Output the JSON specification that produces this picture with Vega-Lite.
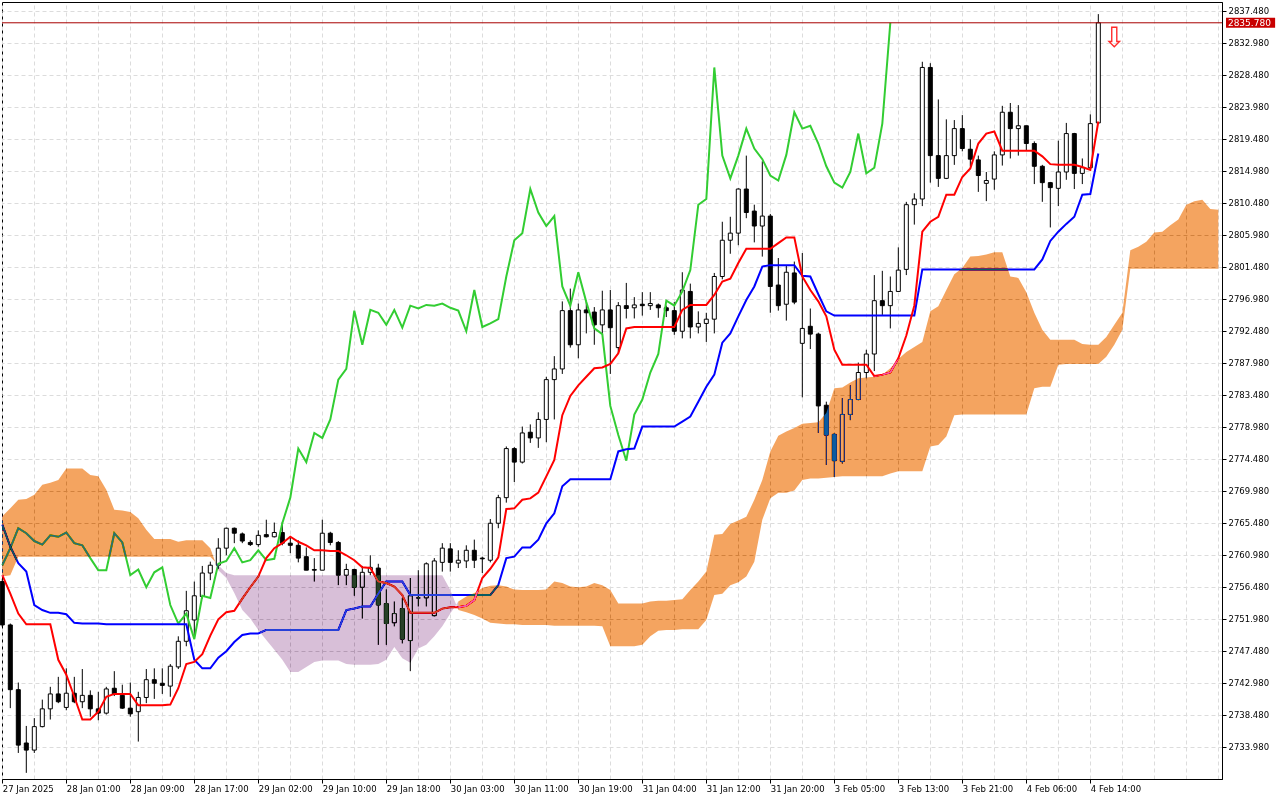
{
"$schema": "https://vega.github.io/schema/vega-lite/v6.json",
"width": 1220, "height": 777,
"autosize": {"type": "none"},
"padding": {"left": 2, "top": 2, "right": 58, "bottom": 21},
"background": "white",
"resolve": {"axis": {"x": "independent", "y": "independent"}},
"config": {
  "view": {"stroke": "black", "strokeWidth": 1},
  "scale": {"continuousPadding": 0},
  "axis": {"labelFont": "DejaVu Sans", "labelFontSize": 8.5, "labelColor": "black", "gridColor": "#dcdcdc", "gridDash": [4, 3], "gridWidth": 1, "tickColor": "black", "domainColor": "black"}
},
"datasets": {
"candles": [
{"i":0,"o":2757.2,"h":2757.6,"l":2750.8,"c":2751.1},{"i":1,"o":2751.1,"h":2751.3,"l":2739.4,"c":2742.0},{"i":2,"o":2742.0,"h":2743.0,"l":2733.1,"c":2734.2},{"i":3,"o":2734.5,"h":2736.9,"l":2730.3,"c":2733.5},{"i":4,"o":2733.5,"h":2738.0,"l":2733.1,"c":2736.8},{"i":5,"o":2736.8,"h":2740.6,"l":2736.7,"c":2739.3},{"i":6,"o":2739.3,"h":2742.4,"l":2737.8,"c":2741.4},{"i":7,"o":2741.4,"h":2743.8,"l":2740.1,"c":2740.3},{"i":8,"o":2739.5,"h":2745.0,"l":2739.1,"c":2741.5},{"i":9,"o":2741.5,"h":2743.8,"l":2740.1,"c":2740.3},
{"i":10,"o":2740.3,"h":2744.9,"l":2739.4,"c":2741.2},{"i":11,"o":2741.2,"h":2741.9,"l":2738.2,"c":2739.3},{"i":12,"o":2739.3,"h":2741.7,"l":2737.7,"c":2738.7},{"i":13,"o":2738.7,"h":2742.4,"l":2738.5,"c":2742.1},{"i":14,"o":2742.2,"h":2744.6,"l":2741.1,"c":2741.4},{"i":15,"o":2741.2,"h":2742.7,"l":2739.3,"c":2739.4},{"i":16,"o":2739.4,"h":2743.0,"l":2738.2,"c":2738.6},{"i":17,"o":2738.9,"h":2741.7,"l":2734.7,"c":2740.9},{"i":18,"o":2740.9,"h":2744.9,"l":2740.1,"c":2743.4},{"i":19,"o":2743.4,"h":2745.0,"l":2740.7,"c":2742.9},
{"i":20,"o":2742.9,"h":2745.0,"l":2741.4,"c":2742.6},{"i":21,"o":2742.5,"h":2745.6,"l":2741.0,"c":2745.3},{"i":22,"o":2745.2,"h":2749.5,"l":2744.9,"c":2748.8},{"i":23,"o":2748.8,"h":2755.9,"l":2748.1,"c":2753.1},{"i":24,"o":2751.8,"h":2757.2,"l":2749.2,"c":2755.2},{"i":25,"o":2755.1,"h":2759.4,"l":2754.8,"c":2758.4},{"i":26,"o":2758.4,"h":2760.0,"l":2757.4,"c":2759.5},{"i":27,"o":2759.5,"h":2763.3,"l":2759.0,"c":2761.9},{"i":28,"o":2761.9,"h":2764.8,"l":2760.9,"c":2764.7},{"i":29,"o":2764.7,"h":2764.8,"l":2762.6,"c":2764.0},
{"i":30,"o":2763.9,"h":2764.1,"l":2762.6,"c":2762.9},{"i":31,"o":2762.7,"h":2763.0,"l":2762.2,"c":2762.4},{"i":32,"o":2762.4,"h":2764.4,"l":2762.1,"c":2763.7},{"i":33,"o":2763.8,"h":2765.9,"l":2763.4,"c":2763.5},{"i":34,"o":2763.5,"h":2765.5,"l":2763.4,"c":2764.1},{"i":35,"o":2764.1,"h":2765.6,"l":2762.3,"c":2762.6},{"i":36,"o":2762.6,"h":2763.5,"l":2761.2,"c":2762.3},{"i":37,"o":2762.3,"h":2763.0,"l":2759.9,"c":2760.5},{"i":38,"o":2760.7,"h":2762.0,"l":2758.8,"c":2758.8},{"i":39,"o":2758.9,"h":2760.5,"l":2757.2,"c":2758.8},
{"i":40,"o":2758.8,"h":2765.9,"l":2758.8,"c":2764.0},{"i":41,"o":2764.0,"h":2764.2,"l":2762.3,"c":2762.7},{"i":42,"o":2762.7,"h":2762.9,"l":2756.7,"c":2758.1},{"i":43,"o":2758.1,"h":2759.7,"l":2756.7,"c":2758.9},{"i":44,"o":2758.9,"h":2759.0,"l":2755.2,"c":2756.4},{"i":45,"o":2756.4,"h":2759.4,"l":2752.0,"c":2758.5},{"i":46,"o":2758.5,"h":2760.9,"l":2758.1,"c":2759.2},{"i":47,"o":2759.1,"h":2759.7,"l":2748.3,"c":2753.9},{"i":48,"o":2754.1,"h":2756.1,"l":2748.3,"c":2751.3},{"i":49,"o":2751.4,"h":2754.4,"l":2750.9,"c":2752.7},
{"i":50,"o":2753.4,"h":2754.9,"l":2748.5,"c":2749.1},{"i":51,"o":2748.9,"h":2757.7,"l":2744.6,"c":2755.2},{"i":52,"o":2754.9,"h":2758.8,"l":2753.7,"c":2754.9},{"i":53,"o":2754.9,"h":2759.9,"l":2753.7,"c":2759.7},{"i":54,"o":2752.4,"h":2760.5,"l":2752.3,"c":2760.1},{"i":55,"o":2759.9,"h":2762.6,"l":2758.6,"c":2761.9},{"i":56,"o":2761.8,"h":2762.6,"l":2758.6,"c":2759.9},{"i":57,"o":2759.8,"h":2761.6,"l":2759.1,"c":2760.2},{"i":58,"o":2760.1,"h":2762.3,"l":2759.1,"c":2761.6},{"i":59,"o":2761.6,"h":2763.1,"l":2759.1,"c":2760.2},
{"i":60,"o":2760.5,"h":2760.7,"l":2758.4,"c":2760.4},{"i":61,"o":2760.2,"h":2766.0,"l":2759.9,"c":2765.4},{"i":62,"o":2765.4,"h":2769.4,"l":2764.7,"c":2769.0},{"i":63,"o":2769.0,"h":2776.2,"l":2768.3,"c":2775.9},{"i":64,"o":2775.9,"h":2776.1,"l":2771.2,"c":2774.0},{"i":65,"o":2774.0,"h":2779.0,"l":2773.8,"c":2778.1},{"i":66,"o":2778.2,"h":2779.3,"l":2776.7,"c":2777.4},{"i":67,"o":2777.4,"h":2781.0,"l":2776.0,"c":2780.0},{"i":68,"o":2780.0,"h":2786.0,"l":2776.8,"c":2785.6},{"i":69,"o":2785.6,"h":2788.9,"l":2780.0,"c":2787.1},
{"i":70,"o":2787.1,"h":2796.6,"l":2786.4,"c":2795.3},{"i":71,"o":2795.3,"h":2798.4,"l":2790.1,"c":2790.5},{"i":72,"o":2790.5,"h":2796.3,"l":2788.6,"c":2795.4},{"i":73,"o":2795.4,"h":2796.5,"l":2792.1,"c":2795.0},{"i":74,"o":2795.1,"h":2795.8,"l":2790.5,"c":2793.3},{"i":75,"o":2793.3,"h":2798.1,"l":2792.1,"c":2795.4},{"i":76,"o":2795.4,"h":2798.2,"l":2786.4,"c":2792.9},{"i":77,"o":2790.1,"h":2796.5,"l":2789.3,"c":2796.0},{"i":78,"o":2796.0,"h":2799.2,"l":2794.2,"c":2795.6},{"i":79,"o":2795.7,"h":2797.2,"l":2794.2,"c":2796.1},
{"i":80,"o":2796.2,"h":2797.9,"l":2794.6,"c":2796.0},{"i":81,"o":2796.0,"h":2797.9,"l":2795.4,"c":2796.3},{"i":82,"o":2796.1,"h":2796.3,"l":2794.3,"c":2795.7},{"i":83,"o":2795.7,"h":2796.0,"l":2794.4,"c":2795.3},{"i":84,"o":2795.3,"h":2796.5,"l":2791.9,"c":2792.4},{"i":85,"o":2792.4,"h":2800.7,"l":2791.4,"c":2798.2},{"i":86,"o":2798.0,"h":2799.1,"l":2791.4,"c":2793.0},{"i":87,"o":2793.0,"h":2795.2,"l":2792.1,"c":2793.5},{"i":88,"o":2793.5,"h":2795.0,"l":2790.9,"c":2794.1},{"i":89,"o":2794.1,"h":2800.6,"l":2792.1,"c":2800.1},
{"i":90,"o":2800.1,"h":2807.8,"l":2799.7,"c":2805.2},{"i":91,"o":2805.2,"h":2808.5,"l":2803.3,"c":2806.2},{"i":92,"o":2806.2,"h":2812.5,"l":2804.5,"c":2812.4},{"i":93,"o":2812.4,"h":2817.1,"l":2808.3,"c":2809.1},{"i":94,"o":2809.3,"h":2810.2,"l":2804.9,"c":2807.2},{"i":95,"o":2807.2,"h":2816.3,"l":2802.9,"c":2808.6},{"i":96,"o":2808.6,"h":2808.9,"l":2795.0,"c":2798.7},{"i":97,"o":2798.9,"h":2802.7,"l":2795.3,"c":2796.0},{"i":98,"o":2796.2,"h":2801.7,"l":2793.9,"c":2800.7},{"i":99,"o":2800.6,"h":2802.2,"l":2796.2,"c":2796.5},
{"i":100,"o":2790.7,"h":2803.4,"l":2783.1,"c":2792.8},{"i":101,"o":2793.1,"h":2795.6,"l":2789.9,"c":2792.0},{"i":102,"o":2792.0,"h":2792.2,"l":2778.1,"c":2781.9},{"i":103,"o":2782.0,"h":2782.5,"l":2773.6,"c":2777.8},{"i":104,"o":2777.9,"h":2778.1,"l":2771.9,"c":2774.2},{"i":105,"o":2774.1,"h":2783.0,"l":2773.8,"c":2780.7},{"i":106,"o":2780.7,"h":2784.8,"l":2779.9,"c":2782.8},{"i":107,"o":2782.8,"h":2788.0,"l":2782.7,"c":2786.6},{"i":108,"o":2786.6,"h":2789.8,"l":2785.8,"c":2789.2},{"i":109,"o":2789.2,"h":2800.3,"l":2786.8,"c":2796.7},
{"i":110,"o":2796.7,"h":2800.9,"l":2794.7,"c":2796.0},{"i":111,"o":2796.0,"h":2800.1,"l":2792.8,"c":2798.0},{"i":112,"o":2798.0,"h":2804.2,"l":2798.0,"c":2801.0},{"i":113,"o":2801.1,"h":2810.6,"l":2800.3,"c":2810.2},{"i":114,"o":2810.2,"h":2811.8,"l":2807.4,"c":2811.0},{"i":115,"o":2811.0,"h":2830.3,"l":2810.0,"c":2829.5},{"i":116,"o":2829.5,"h":2830.1,"l":2813.3,"c":2817.1},{"i":117,"o":2817.1,"h":2825.0,"l":2812.7,"c":2813.9},{"i":118,"o":2813.9,"h":2822.2,"l":2813.8,"c":2817.1},{"i":119,"o":2817.1,"h":2822.1,"l":2815.8,"c":2820.9},
{"i":120,"o":2820.9,"h":2822.8,"l":2817.7,"c":2818.1},{"i":121,"o":2818.0,"h":2819.4,"l":2815.6,"c":2816.6},{"i":122,"o":2816.5,"h":2817.1,"l":2812.0,"c":2814.3},{"i":123,"o":2813.2,"h":2814.8,"l":2810.7,"c":2813.6},{"i":124,"o":2813.8,"h":2817.7,"l":2812.3,"c":2817.2},{"i":125,"o":2817.2,"h":2824.1,"l":2815.7,"c":2823.2},{"i":126,"o":2823.2,"h":2824.5,"l":2816.7,"c":2820.9},{"i":127,"o":2820.9,"h":2824.2,"l":2817.1,"c":2821.3},{"i":128,"o":2821.3,"h":2821.3,"l":2817.8,"c":2818.8},{"i":129,"o":2818.8,"h":2819.1,"l":2813.1,"c":2815.6},
{"i":130,"o":2815.6,"h":2815.8,"l":2810.6,"c":2813.3},{"i":131,"o":2813.3,"h":2813.4,"l":2807.0,"c":2812.6},{"i":132,"o":2812.5,"h":2819.2,"l":2810.0,"c":2814.8},{"i":133,"o":2814.8,"h":2821.7,"l":2813.7,"c":2820.2},{"i":134,"o":2820.2,"h":2820.3,"l":2812.4,"c":2814.6},{"i":135,"o":2814.6,"h":2816.7,"l":2813.1,"c":2815.4},{"i":136,"o":2815.4,"h":2822.9,"l":2815.2,"c":2821.6},{"i":137,"o":2821.7,"h":2837.0,"l":2821.7,"c":2835.78}
],
"lines": [
{"i":0,"t":2758.1,"k":2765.2,"g":2759.5},{"i":1,"t":2755.5,"k":2762.1,"g":2761.9},{"i":2,"t":2752.7,"k":2759.8,"g":2764.7},{"i":3,"t":2751.2,"k":2758.6,"g":2764.0},{"i":4,"t":2751.2,"k":2753.9,"g":2762.9},{"i":5,"t":2751.2,"k":2753.2,"g":2762.4},{"i":6,"t":2751.2,"k":2752.8,"g":2763.7},{"i":7,"t":2746.2,"k":2752.8,"g":2763.5},{"i":8,"t":2744.1,"k":2752.6,"g":2764.1},{"i":9,"t":2741.0,"k":2751.4,"g":2762.6},
{"i":10,"t":2737.8,"k":2751.3,"g":2762.3},{"i":11,"t":2737.8,"k":2751.3,"g":2760.5},{"i":12,"t":2738.9,"k":2751.3,"g":2758.8},{"i":13,"t":2741.0,"k":2751.2,"g":2758.8},{"i":14,"t":2741.4,"k":2751.2,"g":2764.0},{"i":15,"t":2741.4,"k":2751.2,"g":2762.7},{"i":16,"t":2741.4,"k":2751.2,"g":2758.1},{"i":17,"t":2739.8,"k":2751.2,"g":2758.9},{"i":18,"t":2739.8,"k":2751.2,"g":2756.4},{"i":19,"t":2739.8,"k":2751.2,"g":2758.5},
{"i":20,"t":2739.8,"k":2751.2,"g":2759.2},{"i":21,"t":2739.9,"k":2751.2,"g":2753.9},{"i":22,"t":2742.2,"k":2751.2,"g":2751.3},{"i":23,"t":2745.6,"k":2751.2,"g":2752.7},{"i":24,"t":2745.9,"k":2746.2,"g":2749.1},{"i":25,"t":2747.0,"k":2745.0,"g":2755.2},{"i":26,"t":2749.6,"k":2745.0,"g":2754.9},{"i":27,"t":2751.9,"k":2746.5,"g":2759.7},{"i":28,"t":2752.9,"k":2747.4,"g":2760.1},{"i":29,"t":2753.1,"k":2748.7,"g":2761.9},
{"i":30,"t":2754.8,"k":2749.7,"g":2759.9},{"i":31,"t":2756.4,"k":2749.9,"g":2760.2},{"i":32,"t":2757.9,"k":2749.9,"g":2761.6},{"i":33,"t":2760.5,"k":2750.4,"g":2760.2},{"i":34,"t":2761.9,"k":2750.4,"g":2760.4},{"i":35,"t":2762.6,"k":2750.4,"g":2765.4},{"i":36,"t":2763.5,"k":2750.4,"g":2769.0},{"i":37,"t":2762.8,"k":2750.4,"g":2775.9},{"i":38,"t":2762.3,"k":2750.4,"g":2774.0},{"i":39,"t":2761.6,"k":2750.4,"g":2778.1},
{"i":40,"t":2761.6,"k":2750.4,"g":2777.4},{"i":41,"t":2761.5,"k":2750.4,"g":2780.0},{"i":42,"t":2761.5,"k":2750.4,"g":2785.6},{"i":43,"t":2760.9,"k":2753.2,"g":2787.1},{"i":44,"t":2760.2,"k":2753.4,"g":2795.3},{"i":45,"t":2759.2,"k":2753.7,"g":2790.5},{"i":46,"t":2759.1,"k":2753.7,"g":2795.4},{"i":47,"t":2757.2,"k":2755.5,"g":2795.0},{"i":48,"t":2757.0,"k":2757.2,"g":2793.3},{"i":49,"t":2756.5,"k":2757.2,"g":2795.4},
{"i":50,"t":2755.3,"k":2757.2,"g":2792.9},{"i":51,"t":2752.8,"k":2755.3,"g":2796.0},{"i":52,"t":2752.8,"k":2755.3,"g":2795.6},{"i":53,"t":2752.8,"k":2755.3,"g":2796.1},{"i":54,"t":2752.8,"k":2755.3,"g":2796.0},{"i":55,"t":2753.4,"k":2755.3,"g":2796.3},{"i":56,"t":2753.6,"k":2755.3,"g":2795.7},{"i":57,"t":2753.6,"k":2755.3,"g":2795.3},{"i":58,"t":2753.8,"k":2755.3,"g":2792.4},{"i":59,"t":2754.6,"k":2755.3,"g":2798.2},
{"i":60,"t":2757.7,"k":2755.3,"g":2793.0},{"i":61,"t":2759.0,"k":2755.3,"g":2793.5},{"i":62,"t":2760.6,"k":2756.7,"g":2794.1},{"i":63,"t":2767.4,"k":2760.5,"g":2800.1},{"i":64,"t":2767.5,"k":2760.7,"g":2805.2},{"i":65,"t":2768.7,"k":2762.0,"g":2806.2},{"i":66,"t":2768.9,"k":2762.0,"g":2812.4},{"i":67,"t":2769.7,"k":2763.1,"g":2809.1},{"i":68,"t":2772.0,"k":2765.4,"g":2807.2},{"i":69,"t":2774.3,"k":2766.8,"g":2808.6},
{"i":70,"t":2780.6,"k":2770.6,"g":2798.7},{"i":71,"t":2783.3,"k":2771.6,"g":2796.0},{"i":72,"t":2784.8,"k":2771.6,"g":2800.7},{"i":73,"t":2786.0,"k":2771.6,"g":2796.5},{"i":74,"t":2787.2,"k":2771.6,"g":2792.8},{"i":75,"t":2787.3,"k":2771.6,"g":2792.0},{"i":76,"t":2787.8,"k":2771.6,"g":2781.9},{"i":77,"t":2789.3,"k":2775.5,"g":2777.8},{"i":78,"t":2792.8,"k":2775.8,"g":2774.2},{"i":79,"t":2793.0,"k":2775.9,"g":2780.7},
{"i":80,"t":2793.0,"k":2779.0,"g":2782.8},{"i":81,"t":2793.0,"k":2779.0,"g":2786.6},{"i":82,"t":2793.0,"k":2779.0,"g":2789.2},{"i":83,"t":2793.0,"k":2779.0,"g":2796.7},{"i":84,"t":2793.0,"k":2779.0,"g":2796.0},{"i":85,"t":2795.4,"k":2779.7,"g":2798.0},{"i":86,"t":2796.1,"k":2780.4,"g":2801.0},{"i":87,"t":2796.1,"k":2782.5,"g":2810.2},{"i":88,"t":2796.1,"k":2784.6,"g":2811.0},{"i":89,"t":2797.5,"k":2786.3,"g":2829.5},
{"i":90,"t":2799.4,"k":2790.8,"g":2817.1},{"i":91,"t":2799.8,"k":2792.1,"g":2813.9},{"i":92,"t":2802.0,"k":2794.5,"g":2817.1},{"i":93,"t":2804.0,"k":2796.8,"g":2820.9},{"i":94,"t":2804.0,"k":2798.7,"g":2818.1},{"i":95,"t":2804.0,"k":2801.5,"g":2816.6},{"i":96,"t":2804.0,"k":2801.7,"g":2814.3},{"i":97,"t":2804.8,"k":2801.7,"g":2813.6},{"i":98,"t":2805.6,"k":2801.7,"g":2817.2},{"i":99,"t":2805.6,"k":2801.7,"g":2823.2},
{"i":100,"t":2800.1,"k":2800.2,"g":2820.9},{"i":101,"t":2798.2,"k":2800.1,"g":2821.3},{"i":102,"t":2796.6,"k":2797.6,"g":2818.8},{"i":103,"t":2794.5,"k":2795.2,"g":2815.6},{"i":104,"t":2789.8,"k":2794.6,"g":2813.3},{"i":105,"t":2787.7,"k":2794.6,"g":2812.6},{"i":106,"t":2787.7,"k":2794.6,"g":2814.8},{"i":107,"t":2787.7,"k":2794.6,"g":2820.2},{"i":108,"t":2787.7,"k":2794.6,"g":2814.6},{"i":109,"t":2786.1,"k":2794.6,"g":2815.4},
{"i":110,"t":2786.3,"k":2794.6,"g":2821.6},{"i":111,"t":2786.6,"k":2794.6,"g":2835.78},{"i":112,"t":2788.6,"k":2794.6},{"i":113,"t":2791.8,"k":2794.6},{"i":114,"t":2796.0,"k":2794.6},{"i":115,"t":2806.4,"k":2801.1},{"i":116,"t":2807.8,"k":2801.1},{"i":117,"t":2808.5,"k":2801.1},{"i":118,"t":2811.6,"k":2801.1},{"i":119,"t":2811.6,"k":2801.1},
{"i":120,"t":2814.1,"k":2801.1},{"i":121,"t":2815.3,"k":2801.1},{"i":122,"t":2818.8,"k":2801.1},{"i":123,"t":2820.2,"k":2801.1},{"i":124,"t":2820.5,"k":2801.1},{"i":125,"t":2817.8,"k":2801.1},{"i":126,"t":2817.8,"k":2801.1},{"i":127,"t":2817.8,"k":2801.1},{"i":128,"t":2817.8,"k":2801.1},{"i":129,"t":2817.8,"k":2801.1},
{"i":130,"t":2817.0,"k":2802.5},{"i":131,"t":2815.9,"k":2805.1},{"i":132,"t":2815.8,"k":2806.4},{"i":133,"t":2815.8,"k":2807.5},{"i":134,"t":2815.8,"k":2808.5},{"i":135,"t":2815.5,"k":2811.6},{"i":136,"t":2815.1,"k":2811.7},{"i":137,"t":2821.9,"k":2817.4}
],
"cloud": [
{"i":0,"a":2766.4,"b":2757.9,"seg":"o1","kumo":"up"},{"i":1,"a":2767.5,"b":2758.1,"seg":"o1","kumo":"up"},{"i":2,"a":2768.7,"b":2760.7,"seg":"o1","kumo":"up"},{"i":3,"a":2768.8,"b":2760.7,"seg":"o1","kumo":"up"},{"i":4,"a":2769.4,"b":2760.7,"seg":"o1","kumo":"up"},{"i":5,"a":2770.8,"b":2760.7,"seg":"o1","kumo":"up"},{"i":6,"a":2771.1,"b":2760.7,"seg":"o1","kumo":"up"},{"i":7,"a":2771.5,"b":2760.7,"seg":"o1","kumo":"up"},{"i":8,"a":2773.1,"b":2760.7,"seg":"o1","kumo":"up"},{"i":9,"a":2773.1,"b":2760.7,"seg":"o1","kumo":"up"},
{"i":10,"a":2773.1,"b":2760.7,"seg":"o1","kumo":"up"},{"i":11,"a":2772.2,"b":2760.7,"seg":"o1","kumo":"up"},{"i":12,"a":2772.0,"b":2760.7,"seg":"o1","kumo":"up"},{"i":13,"a":2770.1,"b":2760.7,"seg":"o1","kumo":"up"},{"i":14,"a":2767.3,"b":2760.7,"seg":"o1","kumo":"up"},{"i":15,"a":2767.2,"b":2760.7,"seg":"o1","kumo":"up"},{"i":16,"a":2767.0,"b":2760.7,"seg":"o1","kumo":"up"},{"i":17,"a":2766.1,"b":2760.7,"seg":"o1","kumo":"up"},{"i":18,"a":2764.5,"b":2760.7,"seg":"o1","kumo":"up"},{"i":19,"a":2763.2,"b":2760.7,"seg":"o1","kumo":"up"},
{"i":20,"a":2763.2,"b":2760.7,"seg":"o1","kumo":"up"},{"i":21,"a":2763.2,"b":2760.7,"seg":"o1","kumo":"up"},{"i":22,"a":2762.8,"b":2760.7,"seg":"o1","kumo":"up"},{"i":23,"a":2763.0,"b":2760.7,"seg":"o1","kumo":"up"},{"i":24,"a":2763.0,"b":2760.7,"seg":"o1","kumo":"up"},{"i":25,"a":2763.0,"b":2760.7,"seg":"o1","kumo":"up"},{"i":26,"a":2761.9,"b":2760.7,"seg":"o1","kumo":"up"},{"i":27,"a":2758.8,"b":2759.5,"seg":"o1","kumo":"up"},
{"i":27,"a":2758.8,"b":2759.5,"seg":"p","kumo":"down"},{"i":28,"a":2757.7,"b":2758.4,"seg":"p","kumo":"down"},{"i":29,"a":2755.6,"b":2758.1,"seg":"p","kumo":"down"},{"i":30,"a":2753.2,"b":2758.1,"seg":"p","kumo":"down"},{"i":31,"a":2752.0,"b":2758.1,"seg":"p","kumo":"down"},{"i":32,"a":2750.4,"b":2758.1,"seg":"p","kumo":"down"},{"i":33,"a":2749.0,"b":2758.1,"seg":"p","kumo":"down"},{"i":34,"a":2747.6,"b":2758.1,"seg":"p","kumo":"down"},{"i":35,"a":2746.2,"b":2758.1,"seg":"p","kumo":"down"},{"i":36,"a":2744.5,"b":2758.1,"seg":"p","kumo":"down"},
{"i":37,"a":2744.5,"b":2758.1,"seg":"p","kumo":"down"},{"i":38,"a":2745.2,"b":2758.1,"seg":"p","kumo":"down"},{"i":39,"a":2745.9,"b":2758.1,"seg":"p","kumo":"down"},{"i":40,"a":2746.1,"b":2758.1,"seg":"p","kumo":"down"},{"i":41,"a":2746.1,"b":2758.1,"seg":"p","kumo":"down"},{"i":42,"a":2746.1,"b":2758.1,"seg":"p","kumo":"down"},{"i":43,"a":2745.6,"b":2758.1,"seg":"p","kumo":"down"},{"i":44,"a":2745.5,"b":2758.1,"seg":"p","kumo":"down"},{"i":45,"a":2745.5,"b":2758.1,"seg":"p","kumo":"down"},{"i":46,"a":2745.5,"b":2758.1,"seg":"p","kumo":"down"},
{"i":47,"a":2745.6,"b":2758.1,"seg":"p","kumo":"down"},{"i":48,"a":2746.2,"b":2758.1,"seg":"p","kumo":"down"},{"i":49,"a":2748.0,"b":2758.1,"seg":"p","kumo":"down"},{"i":50,"a":2746.4,"b":2758.1,"seg":"p","kumo":"down"},{"i":51,"a":2745.8,"b":2758.1,"seg":"p","kumo":"down"},{"i":52,"a":2747.8,"b":2758.1,"seg":"p","kumo":"down"},{"i":53,"a":2748.3,"b":2758.1,"seg":"p","kumo":"down"},{"i":54,"a":2749.5,"b":2758.1,"seg":"p","kumo":"down"},{"i":55,"a":2750.9,"b":2758.1,"seg":"p","kumo":"down"},{"i":56,"a":2752.7,"b":2756.0,"seg":"p","kumo":"down"},{"i":57,"a":2754.4,"b":2753.2,"seg":"p","kumo":"down"},
{"i":57,"a":2754.4,"b":2753.2,"seg":"o2","kumo":"up"},{"i":58,"a":2755.1,"b":2752.9,"seg":"o2","kumo":"up"},{"i":59,"a":2755.6,"b":2752.5,"seg":"o2","kumo":"up"},{"i":60,"a":2756.3,"b":2752.0,"seg":"o2","kumo":"up"},{"i":61,"a":2756.6,"b":2751.4,"seg":"o2","kumo":"up"},{"i":62,"a":2756.7,"b":2751.3,"seg":"o2","kumo":"up"},{"i":63,"a":2756.5,"b":2751.2,"seg":"o2","kumo":"up"},{"i":64,"a":2756.1,"b":2751.2,"seg":"o2","kumo":"up"},{"i":65,"a":2756.0,"b":2751.1,"seg":"o2","kumo":"up"},{"i":66,"a":2756.0,"b":2751.1,"seg":"o2","kumo":"up"},
{"i":67,"a":2756.0,"b":2751.1,"seg":"o2","kumo":"up"},{"i":68,"a":2756.1,"b":2751.1,"seg":"o2","kumo":"up"},{"i":69,"a":2757.2,"b":2751.0,"seg":"o2","kumo":"up"},{"i":70,"a":2757.0,"b":2751.0,"seg":"o2","kumo":"up"},{"i":71,"a":2756.5,"b":2751.0,"seg":"o2","kumo":"up"},{"i":72,"a":2756.4,"b":2751.0,"seg":"o2","kumo":"up"},{"i":73,"a":2756.5,"b":2751.0,"seg":"o2","kumo":"up"},{"i":74,"a":2757.0,"b":2751.0,"seg":"o2","kumo":"up"},{"i":75,"a":2756.7,"b":2750.9,"seg":"o2","kumo":"up"},{"i":76,"a":2756.0,"b":2748.1,"seg":"o2","kumo":"up"},
{"i":77,"a":2754.1,"b":2748.1,"seg":"o2","kumo":"up"},{"i":78,"a":2754.1,"b":2748.1,"seg":"o2","kumo":"up"},{"i":79,"a":2754.1,"b":2748.1,"seg":"o2","kumo":"up"},{"i":80,"a":2754.1,"b":2748.3,"seg":"o2","kumo":"up"},{"i":81,"a":2754.4,"b":2749.5,"seg":"o2","kumo":"up"},{"i":82,"a":2754.5,"b":2750.3,"seg":"o2","kumo":"up"},{"i":83,"a":2754.5,"b":2750.4,"seg":"o2","kumo":"up"},{"i":84,"a":2754.6,"b":2750.4,"seg":"o2","kumo":"up"},{"i":85,"a":2754.7,"b":2750.5,"seg":"o2","kumo":"up"},{"i":86,"a":2756.0,"b":2750.5,"seg":"o2","kumo":"up"},
{"i":87,"a":2757.2,"b":2750.5,"seg":"o2","kumo":"up"},{"i":88,"a":2758.6,"b":2751.8,"seg":"o2","kumo":"up"},{"i":89,"a":2763.8,"b":2755.3,"seg":"o2","kumo":"up"},{"i":90,"a":2763.9,"b":2755.5,"seg":"o2","kumo":"up"},{"i":91,"a":2765.3,"b":2756.7,"seg":"o2","kumo":"up"},{"i":92,"a":2765.8,"b":2757.1,"seg":"o2","kumo":"up"},{"i":93,"a":2766.3,"b":2757.9,"seg":"o2","kumo":"up"},{"i":94,"a":2768.7,"b":2760.0,"seg":"o2","kumo":"up"},{"i":95,"a":2771.5,"b":2765.9,"seg":"o2","kumo":"up"},{"i":96,"a":2775.5,"b":2768.9,"seg":"o2","kumo":"up"},
{"i":97,"a":2777.7,"b":2769.7,"seg":"o2","kumo":"up"},{"i":98,"a":2778.3,"b":2769.7,"seg":"o2","kumo":"up"},{"i":99,"a":2778.8,"b":2770.0,"seg":"o2","kumo":"up"},{"i":100,"a":2779.4,"b":2771.5,"seg":"o2","kumo":"up"},{"i":101,"a":2779.5,"b":2771.7,"seg":"o2","kumo":"up"},{"i":102,"a":2779.6,"b":2771.7,"seg":"o2","kumo":"up"},{"i":103,"a":2780.9,"b":2771.8,"seg":"o2","kumo":"up"},{"i":104,"a":2784.4,"b":2771.9,"seg":"o2","kumo":"up"},{"i":105,"a":2784.5,"b":2772.0,"seg":"o2","kumo":"up"},{"i":106,"a":2785.2,"b":2772.0,"seg":"o2","kumo":"up"},
{"i":107,"a":2785.8,"b":2772.0,"seg":"o2","kumo":"up"},{"i":108,"a":2785.9,"b":2772.0,"seg":"o2","kumo":"up"},{"i":109,"a":2786.0,"b":2772.0,"seg":"o2","kumo":"up"},{"i":110,"a":2786.3,"b":2772.0,"seg":"o2","kumo":"up"},{"i":111,"a":2787.2,"b":2772.4,"seg":"o2","kumo":"up"},{"i":112,"a":2788.5,"b":2772.7,"seg":"o2","kumo":"up"},{"i":113,"a":2789.5,"b":2772.7,"seg":"o2","kumo":"up"},{"i":114,"a":2790.2,"b":2772.7,"seg":"o2","kumo":"up"},{"i":115,"a":2790.9,"b":2772.7,"seg":"o2","kumo":"up"},{"i":116,"a":2795.2,"b":2776.2,"seg":"o2","kumo":"up"},
{"i":117,"a":2795.9,"b":2776.4,"seg":"o2","kumo":"up"},{"i":118,"a":2798.2,"b":2777.6,"seg":"o2","kumo":"up"},{"i":119,"a":2800.4,"b":2780.6,"seg":"o2","kumo":"up"},{"i":120,"a":2801.3,"b":2780.7,"seg":"o2","kumo":"up"},{"i":121,"a":2802.9,"b":2780.7,"seg":"o2","kumo":"up"},{"i":122,"a":2803.0,"b":2780.7,"seg":"o2","kumo":"up"},{"i":123,"a":2803.2,"b":2780.7,"seg":"o2","kumo":"up"},{"i":124,"a":2803.5,"b":2780.7,"seg":"o2","kumo":"up"},{"i":125,"a":2803.5,"b":2780.7,"seg":"o2","kumo":"up"},{"i":126,"a":2800.1,"b":2780.7,"seg":"o2","kumo":"up"},
{"i":127,"a":2799.9,"b":2780.7,"seg":"o2","kumo":"up"},{"i":128,"a":2797.9,"b":2780.7,"seg":"o2","kumo":"up"},{"i":129,"a":2795.0,"b":2784.4,"seg":"o2","kumo":"up"},{"i":130,"a":2792.6,"b":2784.6,"seg":"o2","kumo":"up"},{"i":131,"a":2791.2,"b":2784.6,"seg":"o2","kumo":"up"},{"i":132,"a":2791.2,"b":2787.7,"seg":"o2","kumo":"up"},{"i":133,"a":2791.2,"b":2787.8,"seg":"o2","kumo":"up"},{"i":134,"a":2791.2,"b":2787.8,"seg":"o2","kumo":"up"},{"i":135,"a":2790.6,"b":2787.8,"seg":"o2","kumo":"up"},{"i":136,"a":2790.5,"b":2787.8,"seg":"o2","kumo":"up"},
{"i":137,"a":2790.5,"b":2787.8,"seg":"o2","kumo":"up"},{"i":138,"a":2791.6,"b":2788.8,"seg":"o2","kumo":"up"},{"i":139,"a":2793.3,"b":2790.5,"seg":"o2","kumo":"up"},{"i":140,"a":2795.0,"b":2792.6,"seg":"o2","kumo":"up"},{"i":141,"a":2803.8,"b":2801.2,"seg":"o2","kumo":"up"},{"i":142,"a":2804.3,"b":2801.2,"seg":"o2","kumo":"up"},{"i":143,"a":2805.0,"b":2801.2,"seg":"o2","kumo":"up"},{"i":144,"a":2806.3,"b":2801.2,"seg":"o2","kumo":"up"},{"i":145,"a":2806.4,"b":2801.2,"seg":"o2","kumo":"up"},{"i":146,"a":2807.3,"b":2801.2,"seg":"o2","kumo":"up"},
{"i":147,"a":2808.1,"b":2801.2,"seg":"o2","kumo":"up"},{"i":148,"a":2810.2,"b":2801.2,"seg":"o2","kumo":"up"},{"i":149,"a":2810.7,"b":2801.2,"seg":"o2","kumo":"up"},{"i":150,"a":2810.9,"b":2801.2,"seg":"o2","kumo":"up"},{"i":151,"a":2809.6,"b":2801.2,"seg":"o2","kumo":"up"},{"i":152,"a":2809.5,"b":2801.2,"seg":"o2","kumo":"up"}
],
"last": [{"p": 2835.78}],
"signal": [{"i": 139.0, "p": 2833.5, "s": "⇩"}]
},
"layer": [
{
  "data": {"name": "candles"},
  "mark": {"type": "rule", "color": "black", "strokeWidth": 1},
  "encoding": {
    "x": {"field": "i", "type": "quantitative", "scale": {"domain": [-0.0375, 152.46], "nice": false, "zero": false, "padding": 0},
      "axis": {"orient": "bottom", "title": null, "values": [0,8,16,24,32,40,48,56,64,72,80,88,96,104,112,120,128,136], "grid": false, "tickSize": 4, "labelAlign": "left", "labelBaseline": "top", "labelPadding": 1, "labelFlush": false, "labelOverlap": false,
        "labelExpr": "['27 Jan 2025','28 Jan 01:00','28 Jan 09:00','28 Jan 17:00','29 Jan 02:00','29 Jan 10:00','29 Jan 18:00','30 Jan 03:00','30 Jan 11:00','30 Jan 19:00','31 Jan 04:00','31 Jan 12:00','31 Jan 20:00','3 Feb 05:00','3 Feb 13:00','3 Feb 21:00','4 Feb 06:00','4 Feb 14:00'][round(datum.value/8)]"}},
    "y": {"field": "l", "type": "quantitative", "scale": {"domain": [2729.436, 2838.703], "nice": false, "zero": false, "padding": 0},
      "axis": {"orient": "right", "title": null, "values": [2733.98,2738.48,2742.98,2747.48,2751.98,2756.48,2760.98,2765.48,2769.98,2774.48,2778.98,2783.48,2787.98,2792.48,2796.98,2801.48,2805.98,2810.48,2814.98,2819.48,2823.98,2828.48,2832.98,2837.48], "format": ".3f", "grid": true, "tickSize": 4, "labelPadding": 2, "labelOverlap": false, "labelFlush": false}},
    "y2": {"field": "h"}
  }
},
{
  "data": {"name": "candles"},
  "mark": {"type": "bar", "size": 4, "stroke": "black", "strokeWidth": 1},
  "encoding": {
    "x": {"field": "i", "type": "quantitative", "scale": {"domain": [-0.0375, 152.46], "nice": false, "zero": false, "padding": 0},
      "axis": {"orient": "top", "title": null, "values": [0,4,8,12,16,20,24,28,32,36,40,44,48,52,56,60,64,68,72,76,80,84,88,92,96,100,104,108,112,116,120,124,128,132,136,140,144,148,152], "grid": true, "labels": false, "ticks": false, "domain": false}},
    "y": {"field": "o", "type": "quantitative", "scale": {"domain": [2729.436, 2838.703], "nice": false, "zero": false, "padding": 0}, "axis": null},
    "y2": {"field": "c"},
    "fill": {"condition": {"test": "datum.c >= datum.o", "value": "white"}, "value": "black"}
  }
},
{
  "data": {"name": "lines"},
  "mark": {"type": "line", "color": "#32CD32", "strokeWidth": 2},
  "encoding": {
    "x": {"field": "i", "type": "quantitative", "scale": {"domain": [-0.0375, 152.46], "nice": false, "zero": false, "padding": 0}, "axis": null},
    "y": {"field": "g", "type": "quantitative", "scale": {"domain": [2729.436, 2838.703], "nice": false, "zero": false, "padding": 0}, "axis": null}
  }
},
{
  "data": {"name": "lines"},
  "mark": {"type": "line", "color": "#0000FF", "strokeWidth": 2},
  "encoding": {
    "x": {"field": "i", "type": "quantitative", "scale": {"domain": [-0.0375, 152.46], "nice": false, "zero": false, "padding": 0}, "axis": null},
    "y": {"field": "k", "type": "quantitative", "scale": {"domain": [2729.436, 2838.703], "nice": false, "zero": false, "padding": 0}, "axis": null}
  }
},
{
  "data": {"name": "lines"},
  "mark": {"type": "line", "color": "#FF0000", "strokeWidth": 2},
  "encoding": {
    "x": {"field": "i", "type": "quantitative", "scale": {"domain": [-0.0375, 152.46], "nice": false, "zero": false, "padding": 0}, "axis": null},
    "y": {"field": "t", "type": "quantitative", "scale": {"domain": [2729.436, 2838.703], "nice": false, "zero": false, "padding": 0}, "axis": null}
  }
},
{
  "data": {"name": "cloud"},
  "mark": {"type": "area", "blend": "difference", "clip": false, "interpolate": "linear"},
  "encoding": {
    "x": {"field": "i", "type": "quantitative", "scale": {"domain": [-0.0375, 152.46], "nice": false, "zero": false, "padding": 0}, "axis": null},
    "y": {"field": "a", "type": "quantitative", "scale": {"domain": [2729.436, 2838.703], "nice": false, "zero": false, "padding": 0}, "axis": null},
    "y2": {"field": "b"},
    "color": {"field": "kumo", "type": "nominal", "scale": {"domain": ["up", "down"], "range": ["#0B5B9F", "#274027"]}, "legend": null},
    "detail": {"field": "seg"}
  }
},
{
  "data": {"name": "last"},
  "mark": {"type": "rule", "color": "#a80000", "strokeWidth": 1},
  "encoding": {
    "y": {"field": "p", "type": "quantitative", "scale": {"domain": [2729.436, 2838.703], "nice": false, "zero": false, "padding": 0}, "axis": null}
  }
},
{
  "data": {"name": "last"},
  "mark": {"type": "bar", "orient": "horizontal", "size": 10, "color": "#c80000", "clip": false},
  "encoding": {
    "x": {"datum": 152.96, "type": "quantitative", "scale": {"domain": [-0.0375, 152.46], "nice": false, "zero": false, "padding": 0}, "axis": null},
    "x2": {"datum": 159.1},
    "y": {"field": "p", "type": "quantitative", "scale": {"domain": [2729.436, 2838.703], "nice": false, "zero": false, "padding": 0}, "axis": null}
  }
},
{
  "data": {"name": "last"},
  "mark": {"type": "text", "align": "left", "baseline": "middle", "color": "white", "font": "DejaVu Sans", "fontSize": 9, "clip": false},
  "encoding": {
    "x": {"datum": 153.2, "type": "quantitative", "scale": {"domain": [-0.0375, 152.46], "nice": false, "zero": false, "padding": 0}, "axis": null},
    "y": {"field": "p", "type": "quantitative", "scale": {"domain": [2729.436, 2838.703], "nice": false, "zero": false, "padding": 0}, "axis": null},
    "text": {"field": "p", "type": "quantitative", "format": ".3f"}
  }
},
{
  "data": {"name": "signal"},
  "mark": {"type": "text", "align": "center", "baseline": "middle", "color": "#ff2a2a", "font": "DejaVu Sans", "fontSize": 28},
  "encoding": {
    "x": {"field": "i", "type": "quantitative", "scale": {"domain": [-0.0375, 152.46], "nice": false, "zero": false, "padding": 0}, "axis": null},
    "y": {"field": "p", "type": "quantitative", "scale": {"domain": [2729.436, 2838.703], "nice": false, "zero": false, "padding": 0}, "axis": null},
    "text": {"field": "s"}
  }
}
]
}
